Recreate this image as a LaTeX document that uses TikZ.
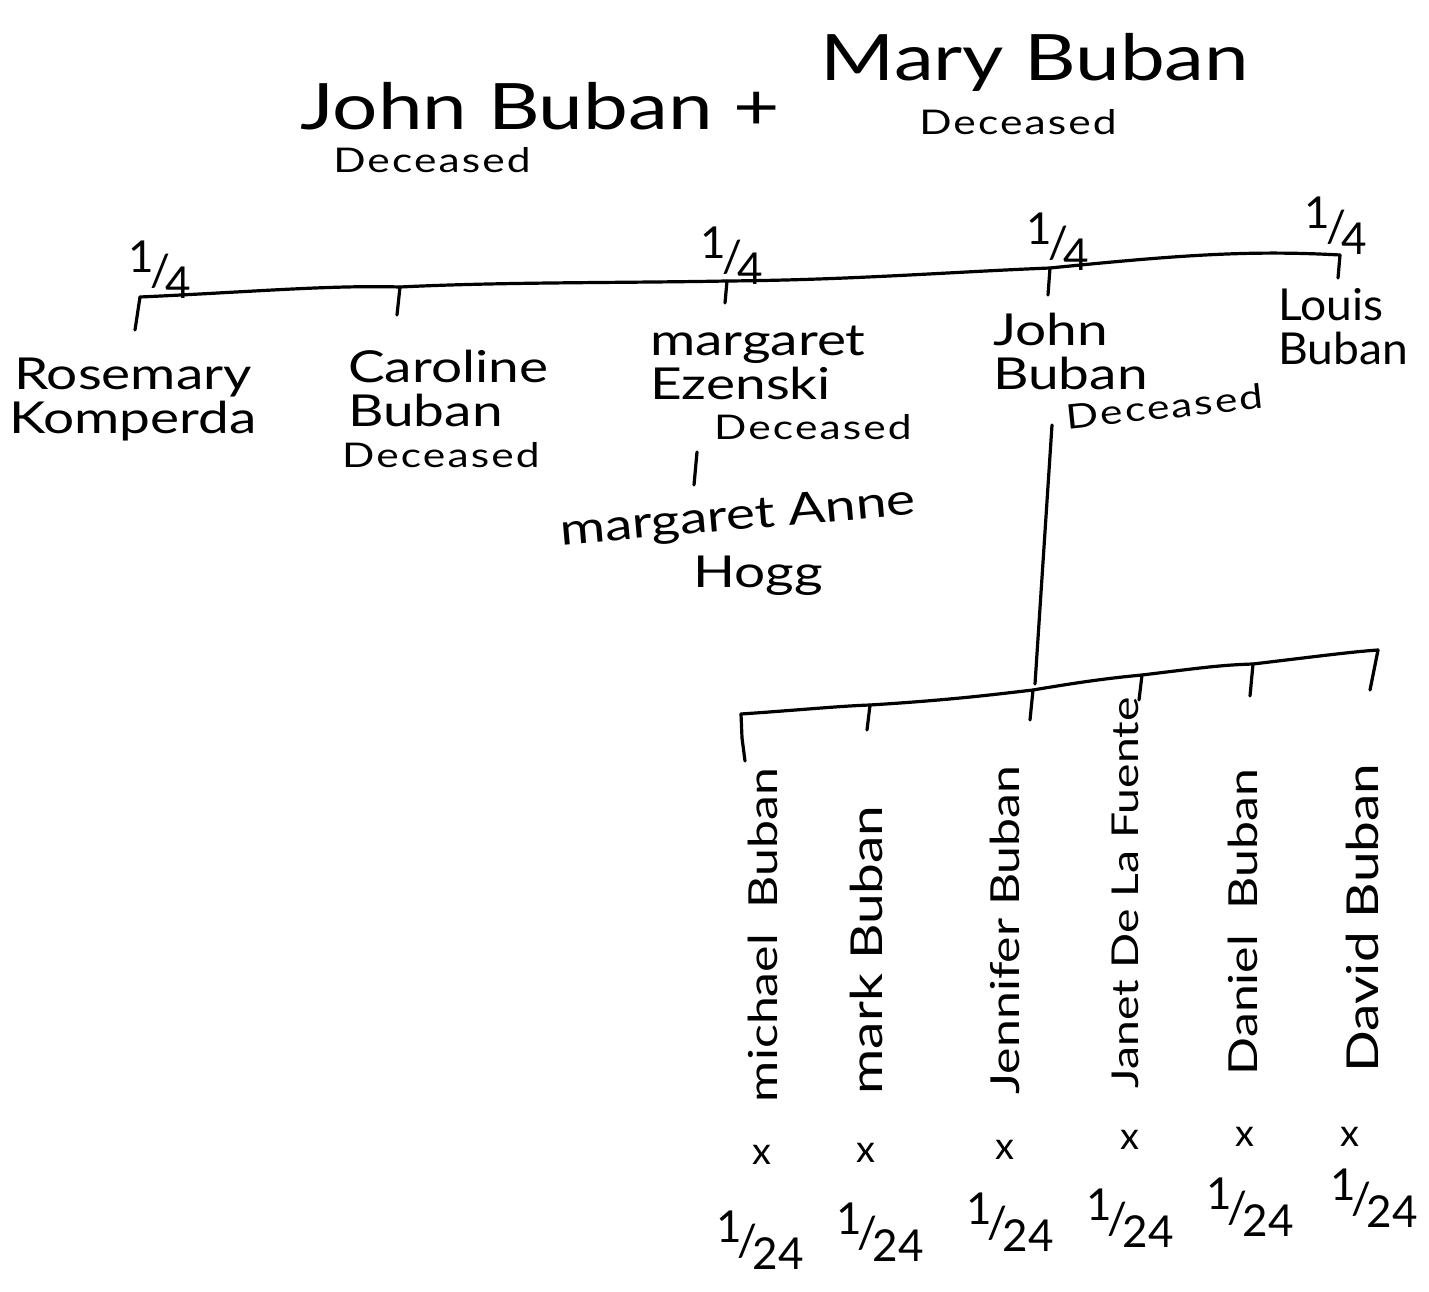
\documentclass[tikz,border=0pt]{standalone}
\usepackage{fontspec}
\setmainfont{Lato}
\newcommand{\fr}[2]{\raisebox{0.32em}{#1}\kern-0.1em/\kern-0.1em\raisebox{-0.28em}{#2}}
\newcommand{\W}[1]{\scalebox{1.25}[1]{#1}}
\newcommand{\Dz}{\scalebox{1.25}[1]{\addfontfeature{LetterSpace=5}Deceased}}
\begin{document}
\begin{tikzpicture}[x=1pt,y=-1pt,
  every node/.style={inner sep=0pt, text=black},
  ln/.style={line width=3.2pt, line cap=round, line join=round, black},
  big/.style={font=\fontsize{64}{68}\selectfont},
  nm/.style={font=\fontsize{44}{44}\selectfont},
  dec/.style={font=\fontsize{34}{36}\selectfont},
  frac/.style={font=\fontsize{44}{46}\selectfont},
  vert/.style={font=\fontsize{40}{42}\selectfont, rotate=90},
  xm/.style={font=\fontsize{38}{40}\selectfont}]
\useasboundingbox (0,0) rectangle (1429,1292);
\fill[white] (0,0) rectangle (1429,1292);

% title
\node[big] (t1) at (540,106) {\W{John Buban +}};
\node[big] (t2) at (1035,62) {\W{Mary Buban}};
\node[dec] (d1) at (432,160) {\Dz};
\node[dec] (d2) at (1018,122) {\Dz};

% top line
\coordinate (a1) at (140,297);
\coordinate (a2) at (400,287);
\coordinate (a3) at (727,281);
\coordinate (a4) at (1050,268);
\coordinate (a5) at (1340,255);
\draw[ln] (a1) .. controls (250,292) and (330,285) .. (a2) .. controls (500,282) and (620,283) .. (a3) .. controls (850,280) and (950,272) .. (a4) .. controls (1180,255) and (1250,250) .. (a5);
\coordinate (b1) at (135,330);
\coordinate (b2) at (397,315);
\coordinate (b3) at (725,303);
\coordinate (b4) at (1048,295);
\coordinate (b5) at (1338,278);
\draw[ln] (a1) -- (b1);
\draw[ln] (a2) -- (b2);
\draw[ln] (a3) -- (b3);
\draw[ln] (a4) -- (b4);
\draw[ln] (a5) -- (b5);

\node[frac] (f1) at (160,270) {\fr{1}{4}};
\node[frac] (f2) at (732,256) {\fr{1}{4}};
\node[frac] (f3) at (1058,242) {\fr{1}{4}};
\node[frac] (f4) at (1336,226) {\fr{1}{4}};

% children
\node[nm, align=center] (n1) at (133,400) {\W{Rosemary}\\\W{Komperda}};
\node[nm, align=left, anchor=north west] (n2) at (348,350) {\W{Caroline}\\\W{Buban}};
\node[dec, anchor=north west] (n2d) at (342,442) {\Dz};
\node[nm, align=left, anchor=north west] (n3) at (650,326) {\W{margaret}\\\W{Ezenski}};
\node[dec, anchor=north west] (n3d) at (714,414) {\Dz};
\node[nm, align=left, anchor=north west] (n4) at (993,313) {\W{John}\\\W{Buban}};
\node[dec, anchor=north west, rotate=6] (n4d) at (1065,404) {\Dz};
\node[nm, align=left, anchor=north west] (n5) at (1278,288) {\scalebox{1.05}[1]{Louis}\\\scalebox{1.05}[1]{Buban}};

\coordinate (m1) at (697,452);
\coordinate (m2) at (694,485);
\draw[ln] (m1) -- (m2);
\node[nm, rotate=5] (g1) at (738,518) {\W{margaret Anne}};
\node[nm] (g2) at (758,576) {\W{Hogg}};

% John's line
\coordinate (j1) at (1052,425);
\coordinate (j2) at (1035,684);
\draw[ln] (j1) -- (j2);

% bottom line
\coordinate (c1) at (741,714);
\coordinate (c2) at (870,705);
\coordinate (c3) at (1033,690);
\coordinate (c4) at (1142,675);
\coordinate (c5) at (1253,664);
\coordinate (c6) at (1378,650);
\draw[ln] (c1) .. controls (800,710) and (840,706) .. (c2) .. controls (950,700) and (990,695) .. (c3) .. controls (1080,682) and (1110,678) .. (c4) .. controls (1200,668) and (1220,665) .. (c5) .. controls (1320,656) and (1350,652) .. (c6);
\coordinate (e1) at (745,761);
\coordinate (e2) at (867,730);
\coordinate (e3) at (1030,720);
\coordinate (e4) at (1139,700);
\coordinate (e5) at (1250,696);
\coordinate (e6) at (1370,690);
\draw[ln] (c1) -- (742,738) -- (e1);
\draw[ln] (c2) -- (e2);
\draw[ln] (c3) -- (e3);
\draw[ln] (c4) -- (e4);
\draw[ln] (c5) -- (e5);
\draw[ln] (c6) -- (e6);

% grandchildren
\node[vert] (g1n) at (763,935) {\W{michael\ \ Buban}};
\node[vert, font=\fontsize{44}{46}\selectfont] (g2n) at (866,950) {\W{mark Buban}};
\node[vert] (g3n) at (1005,930) {\W{Jennifer Buban}};
\node[vert, font=\fontsize{37}{39}\selectfont] (g4n) at (1125,893) {\W{Janet De La Fuente}};
\node[vert] (g5n) at (1243,922) {\W{Daniel\ \ Buban}};
\node[vert, font=\fontsize{44}{46}\selectfont] (g6n) at (1362,918) {\W{David Buban}};

\node[xm] (x1) at (762,1155) {x};
\node[xm] (x2) at (866,1153) {x};
\node[xm] (x3) at (1005,1150) {x};
\node[xm] (x4) at (1130,1140) {x};
\node[xm] (x5) at (1245,1137) {x};
\node[xm] (x6) at (1350,1137) {x};

\node[frac] (y1) at (760,1240) {\fr{1}{24}};
\node[frac] (y2) at (880,1232) {\fr{1}{24}};
\node[frac] (y3) at (1010,1222) {\fr{1}{24}};
\node[frac] (y4) at (1130,1218) {\fr{1}{24}};
\node[frac] (y5) at (1250,1207) {\fr{1}{24}};
\node[frac] (y6) at (1374,1198) {\fr{1}{24}};
\end{tikzpicture}
\end{document}
